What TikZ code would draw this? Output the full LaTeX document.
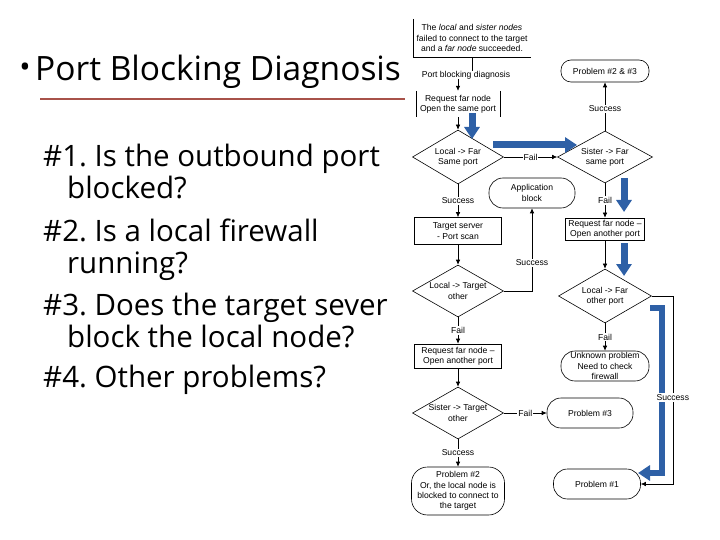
\documentclass[tikz,border=0pt]{standalone}
\usepackage{fontspec}
\setmainfont{Open Sans}
\newfontfamily\chartfont{Liberation Sans}
\usepackage{tikz}
\usetikzlibrary{shapes.geometric,positioning,arrows,arrows.meta}
\frenchspacing

\definecolor{rulered}{RGB}{168,82,74}
\definecolor{hintblue}{RGB}{46,96,166}
\newcommand{\chartsize}{\chartfont\fontsize{8.6}{10.4}\selectfont}

\tikzstyle{arrow} = [line width=0.6pt,-{Latex[length=5pt,width=4.5pt]}]
\tikzset{
 b/.style
  = {rectangle, inner sep=0pt, align=center, font=\chartsize},
 bx/.style
  = {b, draw, line width=0.6pt},
 dd/.style
  = {diamond, draw, inner sep=0pt, line width=0.6pt},
 tt/.style
  = {rectangle, draw, rounded corners=12pt, inner sep=0pt, align=center,
     font=\chartsize, line width=0.6pt},
 lb/.style
  = {fill=white, inner sep=1pt, font=\chartsize},
 bl/.style
  = {draw=hintblue, line width=7pt, -{Triangle[length=12pt,width=15pt]}},
 body/.style
  = {anchor=base west, inner sep=0pt, font=\fontsize{29.5}{32}\selectfont},
}

\begin{document}
\begin{tikzpicture}[x=1pt,y=-1pt]
\useasboundingbox (0,0) rectangle (720,540);

% Title
\node[inner sep=0pt, font=\fontsize{30}{30}\selectfont] (dot) at (25,70.5) {•};
\node[anchor=base west, inner sep=0pt, font=\fontsize{33.5}{36}\selectfont] (title) at (35,81) {Port Blocking Diagnosis};
\draw[rulered, line width=2.5pt] (40,99) -- (405,99);

% Questions
\foreach \x/\y/\t [count=\i] in {43/167/{\#1. Is the outbound port},
    67/199/{blocked?}, 43/241/{\#2. Is a local firewall}, 67/273/{running?},
    43/315/{\#3. Does the target sever}, 67/347/{block the local node?},
    43/387/{\#4. Other problems?}}
  \node[body] (q\i) at (\x,\y) {\t};

% Start
\node[b, minimum width=118pt, minimum height=38pt] (top) at (472,38)
  {The \textit{local} and \textit{sister nodes}\\failed to connect to the target\\and a \textit{far node} succeeded.};
\draw[line width=0.6pt] (top.north west) |- (top.south east);
\node[b] (diag) at (466,75) {Port blocking diagnosis};
\node[b, minimum width=84pt, minimum height=26pt] (req1) at (458,104) {Request far node\\Open the same port};
\draw[line width=0.6pt] (req1.north west) -- (req1.south west) (req1.north east) -- (req1.south east);

% Left column
\node[dd, minimum width=91pt, minimum height=54pt, label={[b]center:Local -> Far\\Same port}] (d1) at (458,157) {};
\node[bx, minimum width=87pt, minimum height=27pt] (tgt) at (458,231) {Target server\\- Port scan};
\node[dd, minimum width=91pt, minimum height=52pt, label={[b]center:Local -> Target\\other}] (d5) at (458,291) {};
\node[bx, minimum width=87pt, minimum height=24pt] (req3) at (458,356) {Request far node –\\Open another port};
\node[dd, minimum width=91pt, minimum height=52pt, label={[b]center:Sister -> Target\\other}] (d4) at (458,413) {};
\node[tt, minimum width=93pt, minimum height=48pt, rounded corners=16pt] (p2) at (458,491)
  {Problem \#2\\Or, the local node is\\blocked to connect to\\the target};

% Middle
\node[tt, minimum width=86pt, minimum height=30pt, rounded corners=14pt] (app) at (532,193) {Application\\block};
\node[tt, minimum width=86pt, minimum height=30pt, rounded corners=14pt] (p3) at (590,413) {Problem \#3};
\node[tt, minimum width=87pt, minimum height=30pt, rounded corners=14pt] (p1) at (597,484) {Problem \#1};

% Right column
\node[tt, minimum width=88pt, minimum height=22pt, rounded corners=10pt] (p23) at (605,71) {Problem \#2 \& \#3};
\node[dd, minimum width=95pt, minimum height=52pt, label={[b]center:Sister -> Far\\same port}] (d2) at (605,157) {};
\node[bx, minimum width=79pt, minimum height=22pt] (req2) at (605,229) {Request far node –\\Open another port};
\node[dd, minimum width=93pt, minimum height=54pt, label={[b]center:Local -> Far\\other port}] (d3) at (605,296) {};
\node[tt, minimum width=88pt, minimum height=30pt, rounded corners=14pt] (unk) at (605,366)
  {Unknown problem\\Need to check\\firewall};

% Hint arrows
\coordinate (h1a) at (472,113); \coordinate (h1b) at (472,139);
\coordinate (h2a) at (493,145); \coordinate (h2b) at (577,145);
\coordinate (h3a) at (624,178); \coordinate (h3b) at (624,212);
\coordinate (h4a) at (624,243); \coordinate (h4b) at (624,276);
\coordinate (h5a) at (650,308); \coordinate (h5b) at (638,473);
\draw[bl] (h1a) -- (h1b);
\draw[bl] (h2a) -- (h2b);
\draw[bl] (h3a) -- (h3b);
\draw[bl] (h4a) -- (h4b);
\draw[bl, line width=6pt] (h5a) -- (662,308) |- (h5b);

% Connectors
\draw[line width=0.6pt] (top.south) -- (top.south |- diag.north);
\draw[arrow] (diag.south -| req1.north) -- (req1.north);
\draw[arrow] (req1) -- (d1);
\draw[arrow] (d1) -- node[lb]{Fail} (d2);
\draw[arrow] (d2) -- node[lb, pos=0.45]{Success} (p23);
\draw[arrow] (d2) -- node[lb]{Fail} (req2);
\draw[arrow] (req2) -- (d3);
\draw[arrow] (d3) -- node[lb]{Fail} (unk);
\draw[arrow] (d3.east) -- ++(21,0) |- node[lb, pos=0.27]{Success} (p1.east);
\draw[arrow] (d1) -- node[lb]{Success} (tgt);
\draw[arrow] (tgt) -- (d5);
\draw[arrow] (d5.east) -| node[lb, pos=0.67]{Success} (app.south);
\draw[arrow] (d5) -- node[lb]{Fail} (req3);
\draw[arrow] (req3) -- (d4);
\draw[arrow] (d4) -- node[lb]{Fail} (p3);
\draw[arrow] (d4) -- node[lb]{Success} (p2);

\end{tikzpicture}
\end{document}
